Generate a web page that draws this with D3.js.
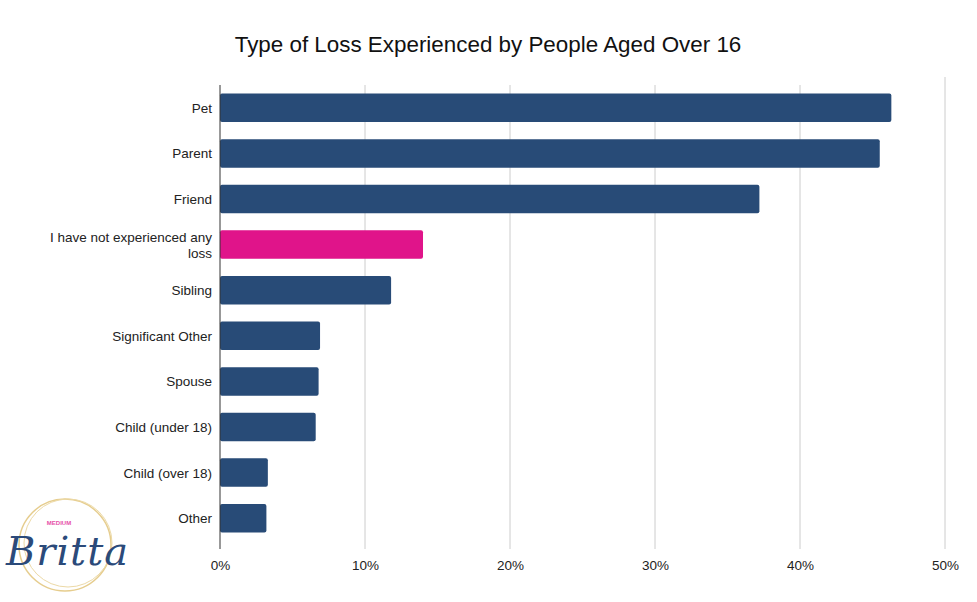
<html>
  <head>
    <title>Type of Loss Experienced by People Aged Over 16</title>
    <script src="https://d3js.org/d3.v7.min.js"></script>
    <style>
      body { margin: 0; background: #fff; }
      text { font-family: "Liberation Sans", Arial, sans-serif; }
    </style>
  </head>
  <body>
    <script>
      const w = 977;
      const h = 602;

      // data
      const categories = [
        "Pet",
        "Parent",
        "Friend",
        "I have not experienced any loss",
        "Sibling",
        "Significant Other",
        "Spouse",
        "Child (under 18)",
        "Child (over 18)",
        "Other"
      ];
      const values = [46.3, 45.5, 37.2, 14.0, 11.8, 6.9, 6.8, 6.6, 3.3, 3.2];
      const highlight = "I have not experienced any loss";
      const ticks = [0, 10, 20, 30, 40, 50];

      const plotLeft = 220;
      const plotRight = 945;
      const plotTop = 85;
      const plotBottom = 549;

      const xScale = d3.scaleLinear().domain([0, 50]).range([plotLeft, plotRight]);
      const yScale = d3
        .scaleBand()
        .domain(categories)
        .range([plotTop, 541])
        .paddingInner(0.375)
        .paddingOuter(0.1875);

      const svg = d3
        .select("body")
        .append("svg")
        .attr("width", w)
        .attr("height", h);

      svg
        .append("text")
        .attr("x", 488)
        .attr("y", 52)
        .attr("text-anchor", "middle")
        .attr("font-size", 22.4)
        .attr("fill", "#111")
        .text("Type of Loss Experienced by People Aged Over 16");

      // grid
      svg
        .append("g")
        .selectAll("line")
        .data(ticks.slice(1))
        .join("line")
        .attr("x1", (d) => xScale(d))
        .attr("x2", (d) => xScale(d))
        .attr("y1", (d) => (d === 50 ? 77 : plotTop))
        .attr("y2", plotBottom)
        .attr("stroke", "#cccccc")
        .attr("stroke-width", 1);

      // bars
      svg
        .append("g")
        .selectAll("rect")
        .data(categories)
        .join("rect")
        .attr("x", xScale(0))
        .attr("y", (d) => yScale(d))
        .attr("width", (d, i) => xScale(values[i]) - xScale(0))
        .attr("height", yScale.bandwidth())
        .attr("rx", 2)
        .attr("fill", (d) => (d === highlight ? "#e0148a" : "#284b77"));

      // y axis line
      svg
        .append("line")
        .attr("x1", plotLeft)
        .attr("x2", plotLeft)
        .attr("y1", plotTop)
        .attr("y2", plotBottom)
        .attr("stroke", "#333")
        .attr("stroke-width", 1);

      // category labels
      const labels = svg
        .append("g")
        .selectAll("text")
        .data(categories)
        .join("text")
        .attr("text-anchor", "end")
        .attr("font-size", 13.5)
        .attr("fill", "#222");

      labels.each(function (d) {
        const t = d3.select(this);
        const cy = yScale(d) + yScale.bandwidth() / 2;
        if (d === highlight) {
          t.append("tspan").attr("x", 212).attr("y", cy - 3).text("I have not experienced any");
          t.append("tspan").attr("x", 212).attr("y", cy + 13).text("loss");
        } else {
          t.attr("x", 212).attr("y", cy + 5).text(d);
        }
      });

      // x axis
      const xAxis = d3
        .axisBottom(xScale)
        .tickValues(ticks)
        .tickFormat((d) => d + "%")
        .tickSize(0)
        .tickPadding(11);

      const gx = svg
        .append("g")
        .attr("transform", "translate(0," + plotBottom + ")")
        .call(xAxis);
      gx.select(".domain").remove();
      gx.selectAll("text")
        .attr("font-size", 13.5)
        .attr("fill", "#222")
        .style("font-family", "Liberation Sans, Arial, sans-serif");

      // logo
      const logo = svg.append("g");
      logo
        .append("circle")
        .attr("cx", 65)
        .attr("cy", 545)
        .attr("r", 46)
        .attr("fill", "none")
        .attr("stroke", "#e6cd8e")
        .attr("stroke-width", 1.5);
      logo
        .append("circle")
        .attr("cx", 68)
        .attr("cy", 543)
        .attr("r", 44)
        .attr("fill", "none")
        .attr("stroke", "#ecd9a6")
        .attr("stroke-width", 1);
      logo
        .append("text")
        .attr("x", 59)
        .attr("y", 525)
        .attr("text-anchor", "middle")
        .attr("font-size", 6)
        .attr("font-weight", "bold")
        .attr("fill", "#e64fa8")
        .text("MEDIUM");
      logo
        .append("text")
        .attr("x", 6)
        .attr("y", 565)
        .attr("font-size", 40)
        .attr("font-style", "italic")
        .attr("fill", "#2b4a7a")
        .attr("textLength", 122)
        .attr("lengthAdjust", "spacing")
        .style("font-family", "DejaVu Serif, serif")
        .text("Britta");
    </script>
  </body>
</html>
